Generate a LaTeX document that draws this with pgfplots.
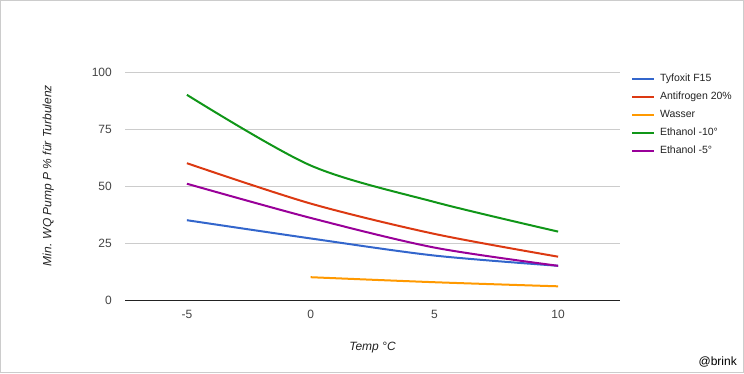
\documentclass[border=0pt]{standalone}
\usepackage{fontspec}
\setmainfont{Liberation Sans}
\usepackage{pgfplots}
\pgfplotsset{compat=1.18}
\definecolor{cA}{HTML}{3366CC}
\definecolor{cB}{HTML}{DC3912}
\definecolor{cC}{HTML}{FF9900}
\definecolor{cD}{HTML}{109618}
\definecolor{cE}{HTML}{990099}
\definecolor{gridc}{HTML}{CCCCCC}
\definecolor{tickc}{HTML}{444444}
\definecolor{titc}{HTML}{222222}
\begin{document}
\begin{tikzpicture}
\path[use as bounding box] (0pt,0pt) rectangle (744pt,373pt);
\draw[gridc, line width=1pt] (0.5pt,0.5pt) rectangle (743.5pt,372.5pt);
\begin{axis}[
  at={(125pt,73pt)}, anchor=south west,
  scale only axis, width=495pt, height=228pt,
  xmin=-7.5, xmax=12.5, ymin=0, ymax=100,
  xtick={-5,0,5,10}, ytick={0,25,50,75,100},
  axis line style={draw=none},
  major tick length=0pt,
  ymajorgrids, grid style={gridc, line width=1pt},
  /pgf/number format/assume math mode=true,
  ticklabel style={font=\fontsize{12}{14}\selectfont, text=tickc},
  yticklabel style={anchor=east, inner sep=0pt, xshift=-13pt},
  xticklabel style={anchor=north, inner sep=0pt, yshift=-10pt},
  xlabel={Temp °C},
  ylabel={Min. WQ Pump P \% für Turbulenz},
  label style={font=\fontsize{12}{14}\selectfont\itshape, text=titc},
  xlabel style={at={(axis description cs:0.5,-0.21)}, anchor=center},
  ylabel style={at={(axis description cs:-0.155,0.545)}, anchor=center},
  legend style={at={(axis description cs:1,1)}, anchor=north west, xshift=11pt, yshift=-1.5pt,
    draw=none, fill=none, inner sep=0pt, outer sep=0pt,
    font=\fontsize{10.5}{13}\selectfont, text=titc,
    row sep=8pt, column sep=5pt,
    nodes={inner sep=0pt, text height=8pt, text depth=2pt, anchor=west}},
  legend cell align=left,
  legend image code/.code={\draw[#1] (0pt,0pt) -- (22pt,0pt);},
  every axis plot/.append style={line width=2pt, smooth},
]
\addplot[cA] coordinates {(-5,35) (0,27) (5,19.5) (10,15)};
\addlegendentry{Tyfoxit F15}
\addplot[cB] coordinates {(-5,60) (0,42.3) (5,29) (10,19)};
\addlegendentry{Antifrogen 20\%}
\addplot[cC] coordinates {(0,10) (5,7.8) (10,6)};
\addlegendentry{Wasser}
\addplot[cD] coordinates {(-5,90) (0,59) (5,43) (10,30)};
\addlegendentry{Ethanol -10°}
\addplot[cE] coordinates {(-5,51) (0,36) (5,23) (10,15)};
\addlegendentry{Ethanol -5°}
\draw[titc, line width=1pt] (axis cs:-7.5,0) -- (axis cs:12.5,0);
\end{axis}
\node[anchor=east, inner sep=0pt, font=\fontsize{12}{14}\selectfont] at (737pt,11pt) {@brink};
\end{tikzpicture}
\end{document}
